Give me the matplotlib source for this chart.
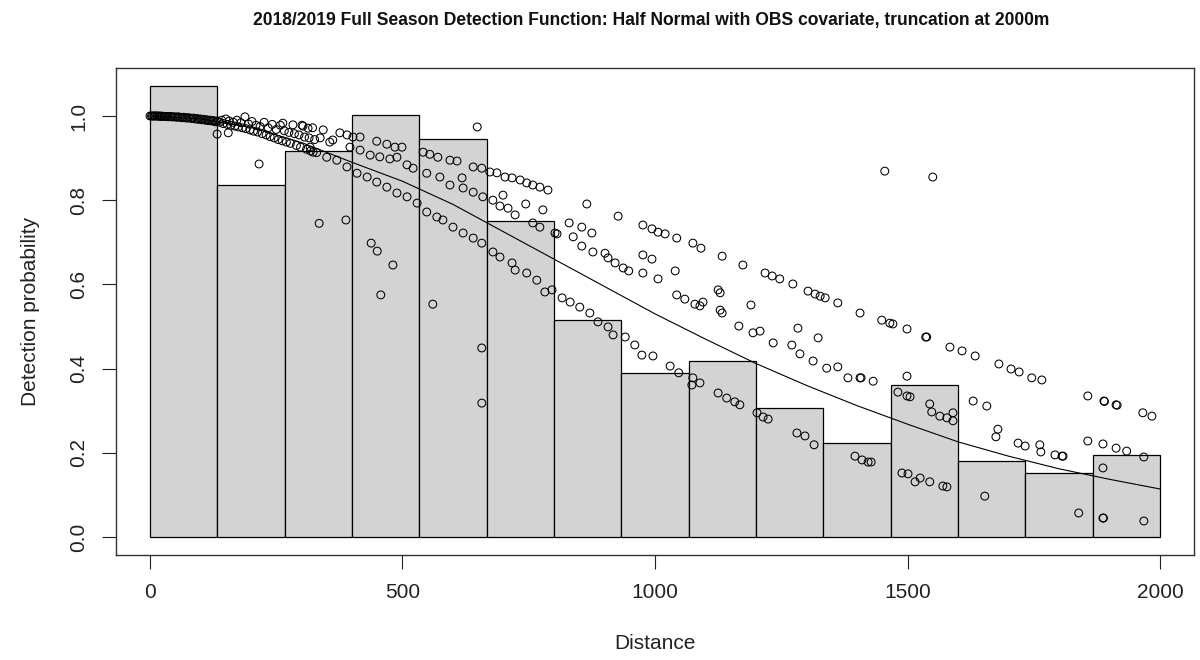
import numpy as np
import matplotlib
matplotlib.use("Agg")
import matplotlib.pyplot as plt

plt.rcParams['font.family'] = ['Liberation Sans', 'DejaVu Sans']

title = "2018/2019 Full Season Detection Function: Half Normal with OBS covariate, truncation at 2000m"
x_label = "Distance"
y_label = "Detection probability"
truncation = 2000
x_ticks = [0, 500, 1000, 1500, 2000]
y_ticks = [0.0, 0.2, 0.4, 0.6, 0.8, 1.0]

# scaled histogram of detection distances (15 bins)
bin_heights = [1.071, 0.836, 0.917, 1.002, 0.945, 0.751, 0.515, 0.390,
               0.418, 0.306, 0.223, 0.361, 0.181, 0.152, 0.195]

# average fitted detection function
line_dist = [0, 100, 200, 300, 400, 500, 600, 700, 800, 900, 1000, 1100,
             1200, 1300, 1400, 1500, 1600, 1700, 1800, 1900, 2000]
line_prob = [1.000, 0.993, 0.973, 0.937, 0.890, 0.845, 0.790, 0.725, 0.660,
             0.595, 0.530, 0.470, 0.412, 0.360, 0.312, 0.268, 0.226, 0.192,
             0.162, 0.137, 0.114]

# individual detection probabilities (open circles)
near_d = [0, 3, 5, 8, 10, 13, 15, 18, 20, 23, 25, 28, 30, 33, 36, 40, 43, 46, 50, 53,
          56, 60, 63, 66, 70, 73, 76, 80, 83, 86, 90, 93, 96, 100, 103, 106, 110, 113, 116, 120,
          123, 126, 130, 133]
near_p = [1.0, 1.0, 1.0, 1.0, 1.0, 1.0, 1.0, 1.0, 0.999, 1.0, 0.999, 0.999, 0.999, 0.999, 0.998, 0.999, 0.998, 0.998, 0.998, 0.997,
          0.998, 0.997, 0.996, 0.997, 0.996, 0.995, 0.996, 0.995, 0.994, 0.995, 0.993, 0.994, 0.992, 0.993, 0.991, 0.992, 0.990, 0.991, 0.989, 0.990,
          0.988, 0.989, 0.986, 0.988]

short_d = [138, 142, 145, 150, 153, 157, 160, 165, 168, 172, 175, 180, 183, 188, 190, 195, 198, 202, 205, 210,
           213, 218, 222, 226, 230, 234, 238, 242, 246, 250, 254, 258, 262, 263, 266, 270, 275, 278, 283, 286,
           290, 295, 298, 303, 306, 310, 315, 318, 322, 326, 330]
short_p = [0.985, 0.990, 0.982, 0.993, 0.980, 0.988, 0.978, 0.985, 0.976, 0.990, 0.974, 0.984, 0.972, 0.998, 0.970, 0.981, 0.967, 0.987, 0.964, 0.978,
           0.962, 0.975, 0.958, 0.985, 0.955, 0.972, 0.951, 0.980, 0.948, 0.968, 0.944, 0.978, 0.941, 0.983, 0.965, 0.938, 0.961, 0.935, 0.979, 0.958,
           0.930, 0.955, 0.926, 0.976, 0.950, 0.921, 0.948, 0.917, 0.972, 0.944, 0.913]

odd_d = [133, 155, 216, 335, 388, 438, 450, 481, 457, 560, 648, 657, 657, 1455, 1550]
odd_p = [0.957, 0.960, 0.886, 0.745, 0.753, 0.698, 0.679, 0.646, 0.575, 0.553, 0.974, 0.449, 0.318, 0.869, 0.855]

mid_up_d = [301, 313, 343, 362, 376, 390, 402, 416, 449, 469, 485, 499, 489, 541, 554, 570, 594, 608, 640, 657, 673, 687,
            703, 717, 733, 746, 758, 772, 788]
mid_up_p = [0.978, 0.971, 0.967, 0.943, 0.960, 0.955, 0.950, 0.950, 0.940, 0.933, 0.926, 0.926, 0.902, 0.914, 0.909, 0.902, 0.895, 0.893, 0.879, 0.876, 0.867, 0.865,
            0.855, 0.853, 0.848, 0.841, 0.836, 0.831, 0.824]

mid_mid_d = [317, 337, 356, 396, 416, 436, 455, 475, 509, 521, 548, 574, 594, 618, 620, 640, 659, 679]
mid_mid_p = [0.926, 0.948, 0.938, 0.926, 0.919, 0.907, 0.903, 0.898, 0.884, 0.876, 0.864, 0.855, 0.836, 0.853, 0.829, 0.819, 0.808, 0.800]

mid_low_d = [323, 350, 370, 390, 410, 430, 449, 469, 489, 509, 529, 548, 568, 580, 600, 620, 640, 657, 679]
mid_low_p = [0.914, 0.902, 0.895, 0.879, 0.864, 0.855, 0.843, 0.831, 0.817, 0.808, 0.793, 0.772, 0.760, 0.753, 0.736, 0.722, 0.710, 0.698, 0.677]

far_up_d = [699, 744, 778, 865, 927, 830, 855, 875, 976, 994, 1006, 1020, 1043,
            1075, 1091, 1133, 1174, 1218, 1232, 1247, 1273, 1303, 1317, 1327, 1337, 1362, 1406,
            1449, 1465, 1471, 1499, 1536, 1538, 1584, 1608, 1634, 1681, 1705, 1721, 1746, 1766,
            1857, 1889, 1890, 1913, 1915, 1966, 1984]
far_up_p = [0.812, 0.791, 0.777, 0.791, 0.762, 0.746, 0.736, 0.722, 0.741, 0.732, 0.724, 0.720, 0.710,
            0.698, 0.686, 0.667, 0.646, 0.627, 0.620, 0.613, 0.601, 0.584, 0.577, 0.572, 0.568, 0.556, 0.532,
            0.515, 0.508, 0.506, 0.494, 0.475, 0.475, 0.451, 0.442, 0.430, 0.411, 0.399, 0.392, 0.378, 0.373,
            0.335, 0.323, 0.322, 0.314, 0.313, 0.295, 0.287]

far_mid_d = [693, 709, 723, 758, 772, 802, 806, 838, 855, 877, 901, 907, 921, 937, 948, 976, 994, 976, 1006, 1040, 1043,
             1059, 1079, 1095, 1089, 1125, 1129, 1129, 1133, 1190, 1166, 1194, 1208, 1234, 1283, 1323, 1271, 1287, 1313, 1340, 1362, 1382, 1406,
             1408, 1432, 1499, 1630, 1657, 1679, 1675, 1719, 1733, 1762,
             1481, 1499, 1505, 1544, 1548, 1564, 1578, 1590, 1590,
             1764, 1792, 1806, 1808, 1857, 1887, 1913, 1934, 1968, 1887]
far_mid_p = [0.786, 0.781, 0.765, 0.746, 0.736, 0.722, 0.720, 0.713, 0.691, 0.677, 0.674, 0.663, 0.651, 0.639, 0.632, 0.670, 0.660, 0.627, 0.613, 0.632, 0.575,
             0.565, 0.553, 0.558, 0.549, 0.587, 0.580, 0.539, 0.532, 0.551, 0.501, 0.485, 0.489, 0.461, 0.496, 0.473, 0.456, 0.435, 0.418, 0.401, 0.404, 0.378, 0.378,
             0.378, 0.370, 0.382, 0.323, 0.311, 0.256, 0.238, 0.223, 0.216, 0.219,
             0.344, 0.335, 0.333, 0.316, 0.297, 0.287, 0.283, 0.295, 0.276,
             0.202, 0.195, 0.192, 0.192, 0.228, 0.221, 0.211, 0.204, 0.190, 0.164]

far_low_d = [693, 717, 723, 746, 766, 782, 796, 816, 832, 851, 871, 887, 907, 917, 941, 960, 974, 996, 1030, 1047,
             1075, 1073, 1089, 1125, 1142, 1158, 1168, 1202, 1214, 1224, 1281, 1297, 1315,
             1396, 1410, 1422, 1428, 1489, 1501, 1515, 1525, 1544, 1570, 1578, 1653,
             1839, 1887, 1888, 1968]
far_low_p = [0.665, 0.651, 0.634, 0.627, 0.610, 0.582, 0.587, 0.568, 0.558, 0.546, 0.532, 0.511, 0.499, 0.480, 0.475, 0.456, 0.432, 0.430, 0.406, 0.390,
             0.378, 0.361, 0.366, 0.342, 0.330, 0.321, 0.314, 0.295, 0.285, 0.280, 0.247, 0.240, 0.219,
             0.192, 0.183, 0.178, 0.178, 0.152, 0.150, 0.131, 0.140, 0.131, 0.121, 0.119, 0.097,
             0.057, 0.045, 0.045, 0.038]

groups = [(near_d, near_p), (short_d, short_p), (odd_d, odd_p), (mid_up_d, mid_up_p),
          (mid_mid_d, mid_mid_p), (mid_low_d, mid_low_p), (far_up_d, far_up_p),
          (far_mid_d, far_mid_p), (far_low_d, far_low_p)]
for i, (d, p) in enumerate(groups):
    assert len(d) == len(p), (i, len(d), len(p))
obs_d = np.concatenate([g[0] for g in groups])
obs_p = np.concatenate([g[1] for g in groups])

# ---------------------------------------------------------------- figure
fig = plt.figure(figsize=(12, 6.6), dpi=100)
ax = fig.add_axes([116 / 1200, 1 - 555 / 660, 1078 / 1200, 487 / 660])

edges = np.linspace(0, truncation, len(bin_heights) + 1)
ax.bar(edges[:-1], bin_heights, width=np.diff(edges), align='edge',
       color='#d3d3d3', edgecolor='black', linewidth=0.9, zorder=1)
ax.plot(line_dist, line_prob, color='black', linewidth=0.8, zorder=2)
ax.scatter(obs_d, obs_p, s=32, facecolors='none', edgecolors='black',
           linewidths=0.75, zorder=3)

ax.set_xlim(-67.3, 2067.3)
ax.set_ylim(-0.0428, 1.114)
ax.set_xticks(x_ticks)
ax.set_xticklabels([str(v) for v in x_ticks])
ax.set_yticks(y_ticks)
ax.set_yticklabels([f"{v:.1f}" for v in y_ticks], rotation=90, va='center')
ax.tick_params(axis='both', length=10, width=0.8, pad=10, labelsize=15,
               colors='#222222', labelcolor='#222222')
for s in ax.spines.values():
    s.set_linewidth(1.0)
    s.set_color('#333333')

ax.set_xlabel(x_label, fontsize=15, labelpad=23, color='#222222')
ax.set_ylabel(y_label, fontsize=15, labelpad=21, color='#222222')

t = fig.text(0.5425, 1 - 20 / 660, title, ha='center', va='center',
             fontsize=12, fontweight='bold', color='#111111')
fig.canvas.draw()
w = t.get_window_extent().width
t.set_fontsize(12 * 795 / w)

fig.savefig("out.png", dpi=100)
